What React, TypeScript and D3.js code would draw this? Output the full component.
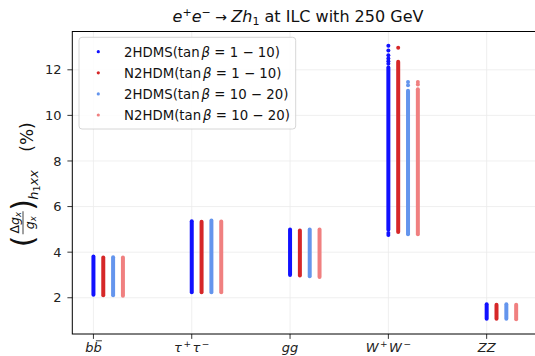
import React from "react";
import * as d3 from "d3";

// ---- data ----
const categories = ["bb", "tautau", "gg", "WW", "ZZ"];
const seriesModels = ["2HDMS", "N2HDM", "2HDMS", "N2HDM"];
const seriesTanBeta = ["1 − 10", "1 − 10", "10 − 20", "10 − 20"];
const seriesColors = ["#1111ff", "#d62728", "#6495ed", "#f08080"];
const seriesOffsets = [0, 0.1, 0.2, 0.3];

// lower / upper end of each dense strip of points, per category
const lo2HDMS_1_10 = [2.13, 2.24, 3.0, 4.98, 1.08];
const hi2HDMS_1_10 = [3.81, 5.36, 4.99, 12.1, 1.71];
const loN2HDM_1_10 = [2.11, 2.24, 2.98, 4.88, 1.08];
const hiN2HDM_1_10 = [3.77, 5.33, 4.95, 12.35, 1.69];
const lo2HDMS_10_20 = [2.11, 2.24, 2.94, 4.79, 1.08];
const hi2HDMS_10_20 = [3.78, 5.39, 4.99, 11.08, 1.72];
const loN2HDM_10_20 = [2.09, 2.24, 2.91, 4.79, 1.06];
const hiN2HDM_10_20 = [3.77, 5.34, 4.99, 11.15, 1.69];

// isolated points outside the dense strips: [category index, value]
const out2HDMS_1_10 = [[3, 13.05], [3, 12.85], [3, 12.64], [3, 12.5], [3, 12.38], [3, 12.27], [3, 4.84], [3, 4.75]];
const outN2HDM_1_10 = [[3, 12.97]];
const out2HDMS_10_20 = [[3, 11.46], [3, 11.32]];
const outN2HDM_10_20 = [[3, 11.46], [3, 11.35]];

const yTicks = [2, 4, 6, 8, 10, 12];

const seriesLo = [lo2HDMS_1_10, loN2HDM_1_10, lo2HDMS_10_20, loN2HDM_10_20];
const seriesHi = [hi2HDMS_1_10, hiN2HDM_1_10, hi2HDMS_10_20, hiN2HDM_10_20];
const seriesOut = [out2HDMS_1_10, outN2HDM_1_10, out2HDMS_10_20, outN2HDM_10_20];

const W = 535;
const H = 356;
const L = 72.3;
const T = 31.5;
const B = 334;
const R = 537.3;
const FONT = "DejaVu Sans, sans-serif";

function XLabel({ cat }: { cat: string }) {
  const sup = { fontSize: 9, fontStyle: "normal" as const };
  if (cat === "bb") return <tspan fontStyle="italic">bb</tspan>;
  if (cat === "tautau")
    return (
      <>
        <tspan fontStyle="italic">τ</tspan>
        <tspan {...sup} dx={1.5} dy={-5}>+</tspan>
        <tspan fontStyle="italic" dx={1.5} dy={5}>τ</tspan>
        <tspan {...sup} dx={1.5} dy={-5}>−</tspan>
      </>
    );
  if (cat === "gg") return <tspan fontStyle="italic">gg</tspan>;
  if (cat === "WW")
    return (
      <>
        <tspan fontStyle="italic">W</tspan>
        <tspan {...sup} dx={1.5} dy={-5}>+</tspan>
        <tspan fontStyle="italic" dx={1.5} dy={5}>W</tspan>
        <tspan {...sup} dx={1.5} dy={-5}>−</tspan>
      </>
    );
  return <tspan fontStyle="italic">ZZ</tspan>;
}

export default function App() {
  const x = d3.scaleLinear().domain([-0.215, 4.515]).range([L, R]);
  const y = d3.scaleLinear().domain([0.41, 13.68]).range([B, T]);
  const catIdx = d3.range(categories.length);

  const cy = (T + B) / 2;

  return (
    <div style={{ position: "absolute", left: 0, top: 0 }}>
      <svg width={W} height={H} style={{ display: "block", fontFamily: FONT }}>
        <rect width={W} height={H} fill="#ffffff" />
        {/* grid */}
        {catIdx.map((i) => (
          <line key={"gx" + i} x1={x(i)} x2={x(i)} y1={T} y2={B} stroke="#ebebeb" strokeWidth={0.8} />
        ))}
        {yTicks.map((t) => (
          <line key={"gy" + t} x1={L} x2={R} y1={y(t)} y2={y(t)} stroke="#ebebeb" strokeWidth={0.8} />
        ))}

        {/* strips */}
        {seriesColors.map((c, s) => (
          <g key={"s" + s}>
            {catIdx.map((i) => (
              <line
                key={i}
                x1={x(i + seriesOffsets[s])}
                x2={x(i + seriesOffsets[s])}
                y1={y(seriesLo[s][i])}
                y2={y(seriesHi[s][i])}
                stroke={c}
                strokeWidth={4}
                strokeLinecap="round"
              />
            ))}
            {seriesOut[s].map(([ci, v], k) => (
              <circle key={"o" + k} cx={x(ci + seriesOffsets[s])} cy={y(v)} r={2} fill={c} />
            ))}
          </g>
        ))}

        {/* frame */}
        <rect x={L} y={T} width={R - L} height={B - T} fill="none" stroke="#000" strokeWidth={1} />

        {/* y ticks */}
        {yTicks.map((t) => (
          <g key={"yt" + t}>
            <line x1={L - 4.9} x2={L} y1={y(t)} y2={y(t)} stroke="#000" strokeWidth={0.8} />
            <text x={61.5} y={y(t) + 4.7} textAnchor="end" fontSize={13} fill="#222">
              {t}
            </text>
          </g>
        ))}
        {/* x ticks */}
        {categories.map((c, i) => (
          <g key={"xt" + c}>
            <line x1={x(i)} x2={x(i)} y1={B} y2={B + 4.9} stroke="#000" strokeWidth={0.8} />
            <text x={x(i)} y={352} textAnchor="middle" fontSize={13} fill="#222">
              <XLabel cat={c} />
            </text>
            {c === "bb" && (
              <line x1={x(i) + 2.5} x2={x(i) + 8.5} y1={340.8} y2={340.8} stroke="#222" strokeWidth={0.9} />
            )}
          </g>
        ))}

        {/* title */}
        <text x={298} y={22} textAnchor="middle" fontSize={16} fill="#111">
          <tspan fontStyle="italic">e</tspan>
          <tspan fontSize={11} dy={-6}>+</tspan>
          <tspan fontStyle="italic" dy={6}>e</tspan>
          <tspan fontSize={11} dy={-6}>−</tspan>
          <tspan dy={6} fontSize={14}> → </tspan>
          <tspan fontStyle="italic">Zh</tspan>
          <tspan fontSize={11} dy={3}>1</tspan>
          <tspan dy={-3}> at ILC with 250 GeV</tspan>
        </text>

        {/* y label */}
        <g transform={`translate(0, ${cy}) rotate(-90)`} fill="#111">
          <text x={-64.5} y={33} fontSize={30}>(</text>
          <text x={-40} y={19} fontSize={12.5} textAnchor="middle">
            <tspan>Δ</tspan>
            <tspan fontStyle="italic">g</tspan>
            <tspan fontSize={8.5} fontStyle="italic" dy={2}>x</tspan>
          </text>
          <line x1={-51.5} x2={-28.5} y1={23} y2={23} stroke="#111" strokeWidth={0.8} />
          <text x={-40} y={33.5} fontSize={12.5} textAnchor="middle">
            <tspan fontStyle="italic">g</tspan>
            <tspan fontSize={8.5} fontStyle="italic" dy={2}>x</tspan>
          </text>
          <text x={-28} y={33} fontSize={30}>)</text>
          <text x={-17} y={38} fontSize={13}>
            <tspan fontStyle="italic">h</tspan>
            <tspan fontSize={9.5} dy={2}>1</tspan>
            <tspan fontStyle="italic" dy={-2}>xx</tspan>
          </text>
          <text x={31} y={33} fontSize={17}>(%)</text>
        </g>

        {/* legend */}
        <rect x={79} y={37.3} width={216.7} height={91.7} rx={3} fill="#ffffff" fillOpacity={0.85} stroke="#cccccc" strokeWidth={0.8} />
        {seriesModels.map((m, s) => {
          const ly = 51.7 + s * 21.1;
          return (
            <g key={"lg" + s}>
              <circle cx={98.3} cy={ly} r={1.6} fill={seriesColors[s]} />
              <text x={124} y={ly + 5} fontSize={13.3} fill="#111">
                {m}(tan
                <tspan dx={2} fontStyle="italic">β</tspan>
                <tspan>{" = " + seriesTanBeta[s]})</tspan>
              </text>
            </g>
          );
        })}
      </svg>
    </div>
  );
}
